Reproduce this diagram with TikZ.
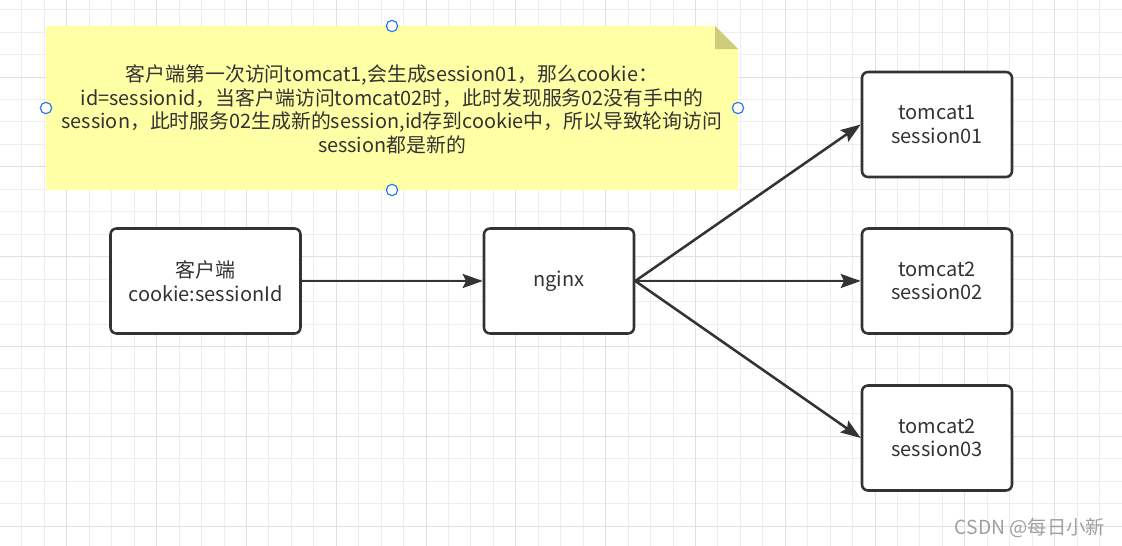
\documentclass[tikz,border=0pt]{standalone}
\usepackage{fontspec}
\setmainfont{Noto Sans CJK SC}
\usetikzlibrary{arrows.meta}
\definecolor{ink}{HTML}{333333}
\definecolor{gridminor}{HTML}{EEEEEE}
\definecolor{gridmajor}{HTML}{E0E0E0}
\definecolor{notefill}{HTML}{FFFFA6}
\definecolor{notefold}{HTML}{CDCB7C}
\definecolor{handleblue}{HTML}{2B7BF0}
\definecolor{wmgray}{HTML}{A0A0A0}
\tikzset{
  minorline/.style={draw=gridminor,line width=0.75pt},
  majorline/.style={draw=gridmajor,line width=0.75pt},
  box/.style={draw=ink,line width=1.9pt,rounded corners=4.5pt,fill=white,
    text=ink,align=center,inner sep=0pt,
    font=\fontsize{15}{17.5}\selectfont},
  conn/.style={draw=ink,line width=1.9pt,
    -{Stealth[length=15pt,width=10.5pt,inset=2.5pt]}},
  handle/.style={circle,draw=handleblue,fill=white,line width=0.9pt,
    minimum size=8.5pt,inner sep=0pt},
  notetext/.style={text=ink,align=center,inner sep=0pt,
    font=\fontsize{14.9}{17.8}\selectfont},
}
\begin{document}
\begin{tikzpicture}[x=0.75pt,y=-0.75pt]
\useasboundingbox (0,0) rectangle (1122,546);
\fill[white] (0,0) rectangle (1122,546);
% grid
\foreach \i in {0,...,50}{\draw[minorline] ({-0.5+22.45*\i},0) -- ({-0.5+22.45*\i},546);}
\foreach \i in {0,...,24}{\draw[minorline] (0,{9.7+22.45*\i}) -- (1122,{9.7+22.45*\i});}
\foreach \i in {0,...,11}{\draw[majorline] ({66.85+89.8*\i},0) -- ({66.85+89.8*\i},546);}
\foreach \i in {0,...,5}{\draw[majorline] (0,{77.05+89.8*\i}) -- (1122,{77.05+89.8*\i});}
% note
\fill[notefill] (46,26) -- (715,26) -- (738,49) -- (738,190) -- (46,190) -- cycle;
\fill[notefold] (715,26) -- (738,49) -- (715,49) -- cycle;
\node[notetext] (note) at (392,109.5) {客户端第一次访问tomcat1,会生成session01，那么cookie：\\
id=sessionid，当客户端访问tomcat02时，此时发现服务02没有手中的\\
session，此时服务02生成新的session,id存到cookie中，所以导致轮询访问\\
session都是新的};
\node[handle] (hT) at (392,26) {};
\node[handle] (hB) at (392,190) {};
\node[handle] (hL) at (46,108) {};
\node[handle] (hR) at (738,108) {};
% boxes
\node[box,minimum width=142.5pt,minimum height=78.75pt] (client) at (205.5,281) {客户端\\cookie:sessionId};
\node[box,minimum width=112.5pt,minimum height=78.75pt] (nginx) at (559,281) {nginx};
\node[box,minimum width=112.5pt,minimum height=78.75pt] (t1) at (937,124.5) {tomcat1\\session01};
\node[box,minimum width=112.5pt,minimum height=78.75pt] (t2) at (937,281) {tomcat2\\session02};
\node[box,minimum width=112.5pt,minimum height=78.75pt] (t3) at (937,438) {tomcat2\\session03};
% connectors
\draw[conn] (client.east) -- (nginx.west);
\draw[conn] (nginx.east) -- (t1.west);
\draw[conn] (nginx.east) -- (t2.west);
\draw[conn] (nginx.east) -- (t3.west);
% watermark
\node[text=wmgray,inner sep=0pt,font=\fontsize{14.5}{16}\selectfont] (wm) at (1030,528) {CSDN @每日小新};
\end{tikzpicture}
\end{document}
